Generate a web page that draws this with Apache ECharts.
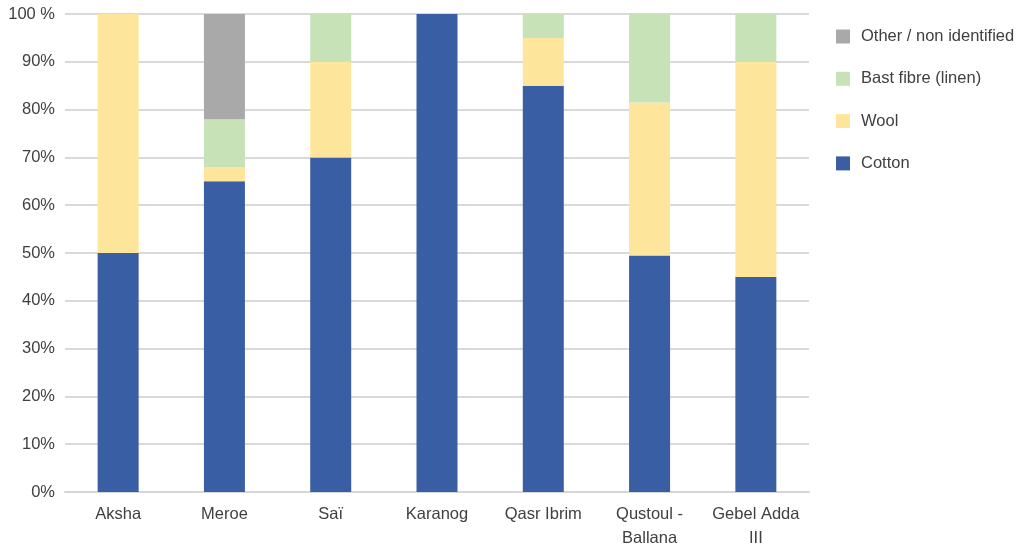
<!DOCTYPE html>
<html><head><meta charset="utf-8">
<script src="https://cdn.jsdelivr.net/npm/echarts@6/dist/echarts.min.js"></script>
<style>html,body{margin:0;padding:0;background:#fff}#c{width:1025px;height:544px}</style>
</head><body><div id="c"></div>
<script>
const categories = ['Aksha','Meroe','Saï','Karanog','Qasr Ibrim','Qustoul -\nBallana','Gebel Adda\nIII'];
const cotton = [50, 65, 70, 100, 85, 49.5, 45];
const wool = [50, 3, 20, 0, 10, 32, 45];
const bast = [0, 10, 10, 0, 5, 18.5, 10];
const other = [0, 22, 0, 0, 0, 0, 0];
const yTicks = [0,10,20,30,40,50,60,70,80,90,100];

const chart = echarts.init(document.getElementById('c'), null, {renderer:'canvas'});
const font = 'Liberation Sans, Arial, sans-serif';
const txt = '#404040';
function s(name, data, color){
  return {name, type:'bar', stack:'t', data, barWidth:41, itemStyle:{color}, emphasis:{disabled:true}};
}
chart.setOption({
  animation:false,
  grid:{left:65, right:216, top:14, bottom:52, containLabel:false, outerBoundsMode:'none'},
  legend:{
    orient:'vertical', left:836, top:28, itemWidth:14, itemHeight:14, itemGap:25.3,
    icon:'rect', padding:0,
    textStyle:{fontFamily:font, fontSize:16.5, lineHeight:16, color:txt, padding:[0,0,0,6]},
    data:['Other / non identified','Bast fibre (linen)','Wool','Cotton']
  },
  xAxis:{type:'category', data:categories,
    axisLine:{lineStyle:{color:'#d6d6d6', width:2}}, axisTick:{show:false},
    axisLabel:{interval:0, hideOverlap:false, fontFamily:font, fontSize:16.5, color:txt, margin:10, lineHeight:24}},
  yAxis:{type:'value', min:0, max:100, interval:10,
    axisLine:{show:false}, axisTick:{show:false},
    splitLine:{lineStyle:{color:'#d9d9d9', width:2}},
    axisLabel:{fontFamily:font, fontSize:16.5, color:txt, margin:10,
      formatter:v => yTicks.includes(v) ? (v===100 ? '100 %' : v+'%') : ''}},
  series:[
    s('Cotton', cotton, '#3a5ea3'),
    s('Wool', wool, '#fde69b'),
    s('Bast fibre (linen)', bast, '#c8e2b8'),
    s('Other / non identified', other, '#a9a9a9')
  ]
});
</script></body></html>
